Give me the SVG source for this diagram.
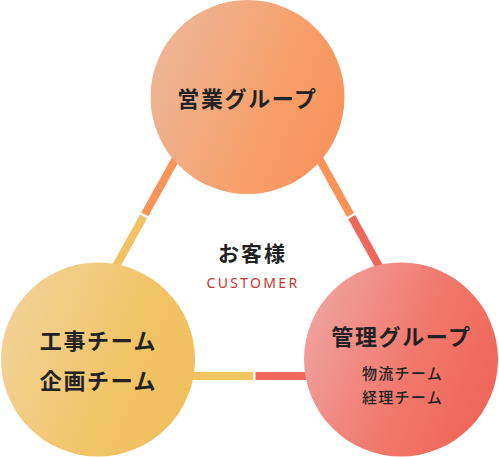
<svg xmlns="http://www.w3.org/2000/svg" width="499" height="457" viewBox="0 0 499 457">
<defs>
<linearGradient id="gTop" x1="0" y1="0.3" x2="1" y2="0.7">
<stop offset="0" stop-color="#EDB697"/>
<stop offset="0.6" stop-color="#F7A06C"/>
<stop offset="1" stop-color="#F8925A"/>
</linearGradient>
<linearGradient id="gLeft" x1="0" y1="0.3" x2="1" y2="0.7">
<stop offset="0" stop-color="#F1D297"/>
<stop offset="0.6" stop-color="#F1C468"/>
<stop offset="1" stop-color="#F0BF5E"/>
</linearGradient>
<linearGradient id="gRight" x1="0" y1="0.3" x2="1" y2="0.7">
<stop offset="0" stop-color="#F0A29F"/>
<stop offset="0.55" stop-color="#F1786C"/>
<stop offset="1" stop-color="#F06458"/>
</linearGradient>
<style>
.ln{stroke-width:8;fill:none;stroke-linecap:butt}
.o{stroke:#F99357}
.y{stroke:#F1C363}
.r{stroke:#F1665A}
.t{font-family:"Noto Sans CJK JP","Noto Sans",sans-serif;fill:#222;text-anchor:middle}
.big{font-size:22px;font-weight:700;letter-spacing:1.6px}
.sm{font-size:15px;font-weight:500;letter-spacing:1.3px}
</style>
</defs>
<g id="connectors">
<line class="ln o" x1="245" y1="34" x2="144.8" y2="214.4"/>
<line class="ln y" x1="143.6" y1="216.5" x2="55" y2="376"/>
<line class="ln o" x1="250" y1="34" x2="350.5" y2="214.95"/>
<line class="ln r" x1="351.7" y1="217.05" x2="440" y2="376"/>
<line class="ln y" x1="60" y1="376" x2="253" y2="376"/>
<line class="ln r" x1="255.5" y1="376" x2="440" y2="376"/>
</g>
<g id="node-sales">
<circle cx="247.5" cy="97" r="97" fill="url(#gTop)"/>
<text class="t big" x="247.5" y="107">営業グループ</text>
</g>
<g id="node-construction">
<circle cx="98" cy="359.5" r="97" fill="url(#gLeft)"/>
<text class="t big" x="98.5" y="349">工事チーム</text>
<text class="t big" x="98.5" y="389">企画チーム</text>
</g>
<g id="node-admin">
<circle cx="401" cy="359.5" r="97" fill="url(#gRight)"/>
<text class="t big" x="401.5" y="345">管理グループ</text>
<text class="t sm" x="402.5" y="379">物流チーム</text>
<text class="t sm" x="402.5" y="403">経理チーム</text>
</g>
<g id="node-customer">
<text class="t" x="252.5" y="261" style="font-size:21px;font-weight:700;letter-spacing:2px">お客様</text>
<text x="253" y="288" style="font-family:'Noto Sans',sans-serif;font-size:14px;letter-spacing:2.3px;fill:#C9352E;text-anchor:middle">CUSTOMER</text>
</g>
</svg>
